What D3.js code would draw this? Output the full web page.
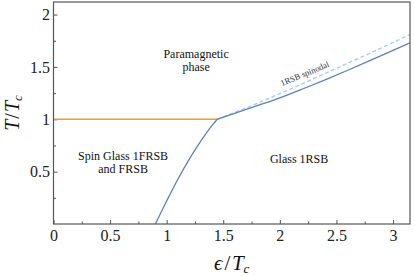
<!DOCTYPE html>
<html>
<head>
<meta charset="utf-8">
<script src="https://cdn.jsdelivr.net/npm/d3@7"></script>
<style>
  body { margin: 0; background: #fff; }
</style>
</head>
<body>
<div id="chart"></div>
<script>
// tick values and labels
const xTicks = [0, 0.5, 1, 1.5, 2, 2.5, 3];
const xTickLabels = ["0", "0.5", "1", "1.5", "2", "2.5", "3"];
const xMinorTicks = [0.25, 0.75, 1.25, 1.75, 2.25, 2.75];
const yTicks = [0.5, 1, 1.5, 2];
const yTickLabels = ["0.5", "1", "1.5", "2"];
const yMinorTicks = [0.25, 0.75, 1.25, 1.75];

// phase boundaries (epsilon/Tc, T/Tc)
const paraSpinGlass = [[0, 1], [1.447, 1]];
const glassBoundary = [[0.9, 0], [1.0, 0.22], [1.1, 0.43], [1.2, 0.62], [1.3, 0.79], [1.4, 0.94], [1.447, 1.0]];
const paraGlass = [[1.447, 1.0], [1.6, 1.056], [1.8, 1.13], [2.0, 1.205], [2.2, 1.289], [2.4, 1.377],
  [2.6, 1.468], [2.8, 1.562], [3.0, 1.658], [3.15, 1.731]];
const spinodal = [[1.447, 1.0], [1.6, 1.066], [1.8, 1.152], [2.0, 1.245], [2.2, 1.34], [2.4, 1.437],
  [2.6, 1.535], [2.8, 1.633], [3.0, 1.733], [3.15, 1.81]];

const W = 415, H = 276;
const margin = { top: 2, right: 5, bottom: 52, left: 53.5 };
const serif = "Liberation Serif";

const svg = d3.select("#chart").append("svg")
  .attr("width", W)
  .attr("height", H)
  .style("display", "block");

const x = d3.scaleLinear().domain([0, 3.15]).range([margin.left, W - margin.right]);
const y = d3.scaleLinear().domain([0, 2.12]).range([H - margin.bottom, margin.top]);

svg.append("clipPath").attr("id", "clip")
  .append("rect")
  .attr("x", margin.left).attr("y", margin.top)
  .attr("width", W - margin.left - margin.right)
  .attr("height", H - margin.top - margin.bottom);

// axes (ticks point inward)
const frameColor = "#555";
const xAxis = svg.append("g")
  .attr("transform", `translate(0,${H - margin.bottom})`)
  .call(d3.axisBottom(x).tickValues(xTicks).tickSize(-4).tickPadding(6)
    .tickFormat((d, i) => xTickLabels[i]));
const xMinorAxis = svg.append("g")
  .attr("transform", `translate(0,${H - margin.bottom})`)
  .call(d3.axisBottom(x).tickValues(xMinorTicks).tickSize(-2.5).tickFormat(""));
const yAxis = svg.append("g")
  .attr("transform", `translate(${margin.left},0)`)
  .call(d3.axisLeft(y).tickValues(yTicks).tickSize(-4).tickPadding(3.5)
    .tickFormat((d, i) => yTickLabels[i]));
const yMinorAxis = svg.append("g")
  .attr("transform", `translate(${margin.left},0)`)
  .call(d3.axisLeft(y).tickValues(yMinorTicks).tickSize(-2.5).tickFormat(""));

[xAxis, xMinorAxis, yAxis, yMinorAxis].forEach(g => {
  g.attr("font-family", serif);
  g.select(".domain").remove();
  g.selectAll("line").attr("stroke", frameColor);
  g.selectAll("text")
    .attr("fill", "#222")
    .attr("font-family", serif)
    .attr("font-size", 16);
});

// curves
const line = d3.line().x(d => x(d[0])).y(d => y(d[1])).curve(d3.curveMonotoneX);
const plot = svg.append("g").attr("clip-path", "url(#clip)");

plot.append("path").datum(spinodal)
  .attr("d", line).attr("fill", "none")
  .attr("stroke", "#a3cbee").attr("stroke-width", 1.3)
  .attr("stroke-dasharray", "4,2.5");

plot.append("path").datum(paraSpinGlass)
  .attr("d", line).attr("fill", "none")
  .attr("stroke", "#f59a23").attr("stroke-width", 1.5);

plot.append("path").datum(glassBoundary)
  .attr("d", d3.line().x(d => x(d[0])).y(d => y(d[1])).curve(d3.curveMonotoneY))
  .attr("fill", "none")
  .attr("stroke", "#5e81b5").attr("stroke-width", 1.3);

plot.append("path").datum(paraGlass)
  .attr("d", line).attr("fill", "none")
  .attr("stroke", "#5e81b5").attr("stroke-width", 1.3);

// frame
svg.append("rect")
  .attr("x", margin.left).attr("y", margin.top)
  .attr("width", W - margin.left - margin.right)
  .attr("height", H - margin.top - margin.bottom)
  .attr("fill", "none")
  .attr("stroke", frameColor)
  .attr("stroke-width", 1.2);

// region labels
const label = (lines, cx, baseline) => {
  const t = svg.append("text")
    .attr("text-anchor", "middle")
    .attr("fill", "#111")
    .attr("font-family", serif)
    .attr("font-size", 12);
  lines.forEach((s, i) => {
    t.append("tspan").attr("x", cx).attr("y", baseline + i * 13).text(s);
  });
};
label(["Paramagnetic", "phase"], x(1.26), y(1.59));
label(["Spin Glass 1FRSB", "and FRSB"], x(0.615), y(0.61));
label(["Glass 1RSB"], x(2.17), y(0.58));

// spinodal label along the curve
const sx = x(2.23), sy = y(1.41);
svg.append("text")
  .attr("transform", `translate(${sx},${sy}) rotate(-22.5)`)
  .attr("text-anchor", "middle")
  .attr("fill", "#333")
  .attr("font-family", serif)
  .attr("font-size", 8.6)
  .text("1RSB spinodal");

// axis titles
const xt = svg.append("text")
  .attr("x", (margin.left + W - margin.right) / 2)
  .attr("y", 270)
  .attr("text-anchor", "middle")
  .attr("fill", "#111")
  .attr("font-family", serif)
  .attr("font-size", 21);
xt.append("tspan").attr("font-style", "italic").text("ϵ");
xt.append("tspan").attr("dx", 2).text("/");
xt.append("tspan").attr("dx", 1.5).attr("font-style", "italic").text("T");
xt.append("tspan").attr("font-style", "italic").attr("font-size", 13).attr("dy", 3).text("c");

const yt = svg.append("text")
  .attr("transform", "translate(19,113) rotate(-90)")
  .attr("text-anchor", "middle")
  .attr("fill", "#111")
  .attr("font-family", serif)
  .attr("font-size", 20);
yt.append("tspan").attr("font-style", "italic").text("T");
yt.append("tspan").attr("dx", 1).text("/");
yt.append("tspan").attr("dx", 1).attr("font-style", "italic").text("T");
yt.append("tspan").attr("font-style", "italic").attr("font-size", 13).attr("dy", 3).text("c");
</script>
</body>
</html>
